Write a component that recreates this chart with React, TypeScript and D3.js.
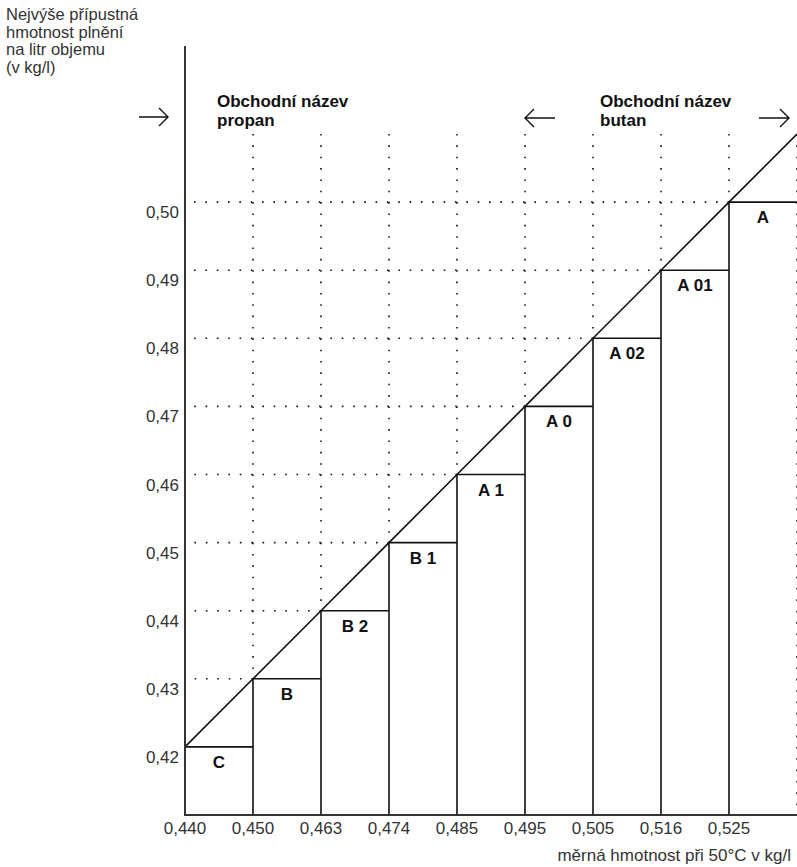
import React from "react";
import * as d3 from "d3";

const categories = ["C", "B", "B 2", "B 1", "A 1", "A 0", "A 02", "A 01", "A"];
const values = [0.42, 0.43, 0.44, 0.45, 0.46, 0.47, 0.48, 0.49, 0.5];
const xTickLabels = ["0,440", "0,450", "0,463", "0,474", "0,485", "0,495", "0,505", "0,516", "0,525"];
const yTicks = [0.42, 0.43, 0.44, 0.45, 0.46, 0.47, 0.48, 0.49, 0.5];
const yTopValue = 0.51;
const yBottomValue = 0.41;
const yLabelLines = ["Nejvýše přípustná", "hmotnost plnění", "na litr objemu", "(v kg/l)"];
const xTitle = "měrná hmotnost při 50°C v kg/l";
const propanLines = ["Obchodní název", "propan"];
const butanLines = ["Obchodní název", "butan"];

const W = 797;
const H = 867;
const FONT = "'Liberation Sans', Arial, Helvetica, sans-serif";
const TEXT = "#333";
const INK = "#111";

export default function App() {
  const x = d3.scaleBand<string>().domain(categories).range([185, 797]).paddingInner(0).paddingOuter(0);
  const y = d3.scaleLinear().domain([yBottomValue, yTopValue]).range([815, 134]);
  const bw = x.bandwidth();
  const step = (y(0.5) - y(0.51)) / 6;
  const dash = `1.6 ${step - 1.6}`;

  const diagPts: [number, number][] = categories.map((c, i) => [x(c)!, y(values[i])]);
  diagPts.push([x(categories[categories.length - 1])! + bw, y(yTopValue)]);
  const diag = d3.line()(diagPts) || "";

  const arrowR = (x0: number, x1: number, yy: number) =>
    `M${x0},${yy}H${x1}M${x1 - 9},${yy - 9}L${x1},${yy}L${x1 - 9},${yy + 9}`;
  const arrowL = (x0: number, x1: number, yy: number) =>
    `M${x1},${yy}H${x0}M${x0 + 9},${yy - 9}L${x0},${yy}L${x0 + 9},${yy + 9}`;

  return (
    <svg width={W} height={H} style={{ position: "absolute", left: 0, top: 0, background: "#fff" }} fontFamily={FONT}>
      <rect width={W} height={H} fill="#fff" />
      {/* y-axis title */}
      {yLabelLines.map((t, i) => (
        <text key={t} x={6} y={20 + i * 17.5} fontSize={16.5} fill={TEXT}>{t}</text>
      ))}
      {/* horizontal dotted gridlines */}
      {yTicks.map((v, i) =>
        i === 0 ? null : (
          <line key={"h" + v} x1={x(categories[i])!} x2={185} y1={y(v)} y2={y(v)} stroke={INK} strokeWidth={1.6} strokeDasharray={dash} />
        )
      )}
      {/* vertical dotted gridlines */}
      {categories.map((c, i) =>
        i === 0 ? null : (
          <line key={"v" + c} x1={x(c)!} x2={x(c)!} y1={y(yTopValue)} y2={y(values[i])} stroke={INK} strokeWidth={1.6} strokeDasharray={dash} />
        )
      )}
      <line x1={797} x2={797} y1={y(yTopValue)} y2={y(yBottomValue)} stroke={INK} strokeWidth={1.6} strokeDasharray={dash} />
      {/* bars */}
      {categories.map((c, i) => (
        <g key={c}>
          <path d={`M${x(c)!},${y(yBottomValue)}V${y(values[i])}H${x(c)! + bw}`} fill="none" stroke={INK} strokeWidth={1.6} />
          <text x={x(c)! + bw / 2} y={y(values[i]) + 21} textAnchor="middle" fontSize={17} fontWeight="bold" fill={INK}>{c}</text>
        </g>
      ))}
      {/* diagonal */}
      <path d={diag} fill="none" stroke={INK} strokeWidth={1.6} />
      {/* axes */}
      <line x1={185} x2={185} y1={46} y2={y(yBottomValue) + 1} stroke={TEXT} strokeWidth={2} />
      <line x1={184} x2={W} y1={y(yBottomValue)} y2={y(yBottomValue)} stroke={TEXT} strokeWidth={2} />
      {yTicks.map((v) => (
        <text key={"yt" + v} x={179} y={y(v) + 16} textAnchor="end" fontSize={17} fill={TEXT}>
          {d3.format(".2f")(v).replace(".", ",")}
        </text>
      ))}
      {categories.map((c, i) => (
        <text key={"xt" + c} x={x(c)!} y={834} textAnchor="middle" fontSize={17} fill={TEXT}>{xTickLabels[i]}</text>
      ))}
      <text x={791} y={861} textAnchor="end" fontSize={17} fill={TEXT}>{xTitle}</text>
      {/* trade names */}
      {propanLines.map((t, i) => (
        <text key={"p" + i} x={217} y={107 + i * 19} fontSize={17} fontWeight="bold" fill={INK}>{t}</text>
      ))}
      {butanLines.map((t, i) => (
        <text key={"b" + i} x={600} y={107 + i * 19} fontSize={17} fontWeight="bold" fill={INK}>{t}</text>
      ))}
      <path d={arrowR(139, 168, 117)} fill="none" stroke={INK} strokeWidth={1.4} />
      <path d={arrowL(525, 555, 118)} fill="none" stroke={INK} strokeWidth={1.4} />
      <path d={arrowR(759, 789, 118)} fill="none" stroke={INK} strokeWidth={1.4} />
    </svg>
  );
}
